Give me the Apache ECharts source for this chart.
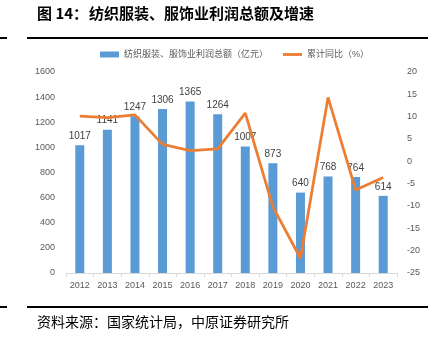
<!DOCTYPE html>
<html><head><meta charset="utf-8">
<script src="https://cdn.jsdelivr.net/npm/echarts@6/dist/echarts.min.js"></script>
<style>html,body{margin:0;padding:0;background:#fff}#c{width:444px;height:343px}</style>
</head><body><div id="c"></div>
<script>
const categories = ['2012','2013','2014','2015','2016','2017','2018','2019','2020','2021','2022','2023'];
const profit = [1017,1141,1247,1306,1365,1264,1007,873,640,768,764,614];
const growth = [10.1,9.8,10.4,3.8,2.4,2.8,10.8,-10.2,-21.7,14.3,-6.4,-3.6];
const seriesNames = ['纺织服装、服饰业利润总额（亿元）','累计同比（%）'];
const titlePrefix = '图 14：';
const titleText = '纺织服装、服饰业利润总额及增速';
const sourceText = '资料来源：国家统计局，中原证券研究所';

const chart = echarts.init(document.getElementById('c'));
const font = 'Arial, "Liberation Sans", "Noto Sans CJK SC", sans-serif';
chart.setOption({
  animation:false,
  textStyle:{fontFamily:font},
  grid:{left:66,right:47,top:72,bottom:70},
  legend:{
    top:45,left:95,itemWidth:19,itemHeight:6,itemGap:15,
    textStyle:{fontSize:9,color:'#595959',fontFamily:font},
    data:[{name:seriesNames[0],icon:'rect'},
          {name:seriesNames[1],icon:'path://M0,0 L20,0 L20,3 L0,3 Z'}]
  },
  xAxis:{
    type:'category',data:categories,
    axisLine:{lineStyle:{color:'#d9d9d9'}},
    axisTick:{show:true,length:4,lineStyle:{color:'#d9d9d9'}},
    axisLabel:{color:'#595959',fontSize:9,margin:8}
  },
  yAxis:[
    {type:'value',min:0,max:1600,interval:200,
     axisLine:{show:false},axisTick:{show:false},splitLine:{show:false},
     axisLabel:{color:'#595959',fontSize:9,margin:11,formatter:v=>String(v)}},
    {type:'value',min:-25,max:20,interval:5,
     axisLine:{show:false},axisTick:{show:false},splitLine:{show:false},
     axisLabel:{color:'#595959',fontSize:9,margin:10,formatter:v=>String(v)}}
  ],
  series:[
    {name:seriesNames[0],type:'bar',data:profit,barWidth:9,
     itemStyle:{color:'#5B9BD5'},
     label:{show:true,position:'top',distance:4,color:'#404040',fontSize:10,formatter:p=>String(p.value)}},
    {name:seriesNames[1],type:'line',yAxisIndex:1,data:growth,
     symbol:'none',lineStyle:{color:'#ED7D31',width:2.75},itemStyle:{color:'#ED7D31'}}
  ],
  graphic:[
    {type:'text',left:37,top:6,style:{text:titlePrefix,font:'bold 15px "Noto Sans CJK SC", sans-serif',fill:'#000'}},
    {type:'text',left:89,top:6,style:{text:titleText,font:'bold 15px "Noto Sans CJK SC", sans-serif',fill:'#000'}},
    {type:'rect',shape:{x:27,y:37,width:401,height:2},style:{fill:'#000'}},
    {type:'rect',shape:{x:0,y:37,width:7,height:2},style:{fill:'#000'}},
    {type:'rect',shape:{x:27,y:306,width:401,height:2},style:{fill:'#000'}},
    {type:'rect',shape:{x:0,y:306,width:7,height:2},style:{fill:'#000'}},
    {type:'text',left:37,top:315,style:{text:sourceText,font:'14px "Noto Sans CJK SC", sans-serif',fill:'#000'}}
  ]
});
</script></body></html>
